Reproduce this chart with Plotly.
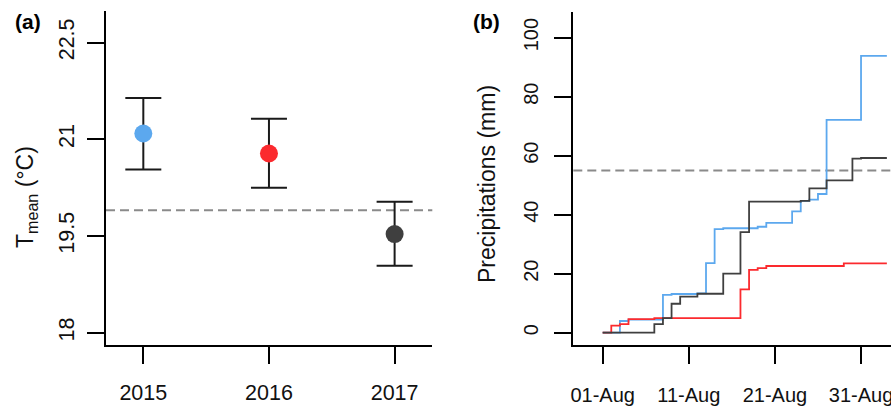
import plotly.graph_objects as go

# ---------------- data ----------------
years = [2015, 2016, 2017]
year_colors = ["#5CA8EE", "#FB2A2E", "#3F3F3F"]
tmean = [21.09, 20.78, 19.53]
tmean_upper = [21.64, 21.32, 20.03]
tmean_lower = [20.53, 20.25, 19.04]
tmean_ref = 19.90

days = list(range(1, 35))
day_tickvals = [1, 11, 21, 31]
day_ticktext = ["01-Aug", "11-Aug", "21-Aug", "31-Aug"]

precip_2015 = [0, 0, 3.95, 4.4, 4.4, 4.4, 4.4, 12.8, 13.1, 13.1, 13.1, 13.3, 23.6, 35.1,
               35.4, 35.4, 35.4, 35.4, 35.9, 37.2, 37.2, 37.2, 41.1, 44.7, 45.1, 47.0,
               72.1, 72.1, 72.1, 72.1, 93.8, 93.8, 93.8, 93.8]
precip_2016 = [0, 2.4, 2.9, 4.6, 4.6, 4.6, 4.9, 4.9, 4.9, 4.9, 4.9, 4.9, 4.9, 4.9,
               4.9, 4.9, 14.7, 21.3, 21.9, 22.6, 22.6, 22.6, 22.6, 22.6, 22.6, 22.6,
               22.6, 22.6, 23.5, 23.5, 23.5, 23.5, 23.5, 23.5]
precip_2017 = [0, 0, 0, 0, 0, 0, 2.9, 4.9, 9.8, 12.2, 12.2, 13.2, 13.2, 13.2,
               20.0, 20.0, 34.1, 44.4, 44.4, 44.4, 44.4, 44.4, 44.4, 44.7, 48.9, 48.9,
               51.6, 51.6, 51.6, 59.0, 59.2, 59.2, 59.2, 59.2]
precip_ref = 55.0

# ---------------- figure ----------------
W, H = 891, 406
FONT = "Liberation Sans, Arial, sans-serif"

fig = go.Figure()

# panel (a)
for yr, col, m, up, lo in zip(years, year_colors, tmean, tmean_upper, tmean_lower):
    fig.add_trace(go.Scatter(
        x=[yr], y=[m], mode="markers", xaxis="x", yaxis="y",
        marker=dict(size=18, color=col, line=dict(width=0)),
        error_y=dict(type="data", symmetric=False, array=[up - m], arrayminus=[m - lo],
                     color="#1a1a1a", thickness=2, width=18),
        showlegend=False, hoverinfo="skip"))

# panel (b)
for vals, col in zip([precip_2015, precip_2016, precip_2017], year_colors):
    fig.add_trace(go.Scatter(
        x=days, y=vals, mode="lines", xaxis="x2", yaxis="y2",
        line=dict(color=col, width=1.8, shape="hv"),
        showlegend=False, hoverinfo="skip"))

def px_x(p):
    return p / W

def px_y(p):
    return 1 - p / H

axis_common = dict(showline=True, linecolor="black", linewidth=2, ticks="outside",
                   ticklen=17, tickwidth=2, tickcolor="black", showgrid=False,
                   zeroline=False, mirror=False, automargin=False,
                   ticklabeloverflow="allow",
                   tickfont=dict(family=FONT, size=21.5, color="#111"))
small_font = dict(family=FONT, size=20, color="#111")

fig.update_layout(
    width=W, height=H, margin=dict(l=0, r=0, t=0, b=0, pad=0),
    paper_bgcolor="white", plot_bgcolor="white",
    xaxis=dict(domain=[px_x(106), px_x(432.3)], range=[2014.703, 2017.30],
               tickvals=years, ticktext=[str(y) for y in years], anchor="y",
               ticklabelstandoff=10, **axis_common),
    yaxis=dict(domain=[px_y(345), px_y(11)], range=[17.81, 22.99],
               tickvals=[18, 19.5, 21, 22.5], ticktext=["18", "19.5", "21", "22.5"],
               tickangle=-90, anchor="x", ticklabelstandoff=4, **axis_common),
    xaxis2=dict(domain=[px_x(573.3), 1.0], range=[-2.41, 34.48],
                tickvals=day_tickvals, ticktext=day_ticktext, anchor="y2",
                ticklabelstandoff=14, **{**axis_common, "tickfont": small_font}),
    yaxis2=dict(domain=[px_y(345), px_y(11.7)], range=[-4.18, 108.8],
                tickvals=[0, 20, 40, 60, 80, 100], ticktext=["0", "20", "40", "60", "80", "100"],
                tickangle=-90, anchor="x2", ticklabelstandoff=8,
                **{**axis_common, "tickfont": small_font}),
    shapes=[
        dict(type="line", xref="x domain", yref="y", x0=0, x1=1, y0=tmean_ref, y1=tmean_ref,
             line=dict(color="#8a8a8a", width=2, dash="9px,5px"), layer="below"),
        dict(type="line", xref="x2 domain", yref="y2", x0=0, x1=1, y0=precip_ref, y1=precip_ref,
             line=dict(color="#8a8a8a", width=2, dash="9px,5px"), layer="below"),
    ],
    annotations=[
        dict(text="<b>(a)</b>", x=px_x(13), y=px_y(8), xref="paper", yref="paper",
             xanchor="left", yanchor="top", showarrow=False,
             font=dict(family=FONT, size=21, color="black")),
        dict(text="<b>(b)</b>", x=px_x(471), y=px_y(8), xref="paper", yref="paper",
             xanchor="left", yanchor="top", showarrow=False,
             font=dict(family=FONT, size=21, color="black")),
        dict(text="T<sub>mean</sub> (°C)", x=px_x(26), y=px_y(197), xref="paper", yref="paper",
             xanchor="center", yanchor="middle", textangle=-90, showarrow=False,
             font=dict(family=FONT, size=23, color="#111")),
        dict(text="Precipitations (mm)", x=px_x(487), y=px_y(184), xref="paper", yref="paper",
             xanchor="center", yanchor="middle", textangle=-90, showarrow=False,
             font=dict(family=FONT, size=23, color="#111")),
    ],
)

fig.write_html("out.html", config={"displayModeBar": False},
               post_script="document.body.style.margin='0';")
